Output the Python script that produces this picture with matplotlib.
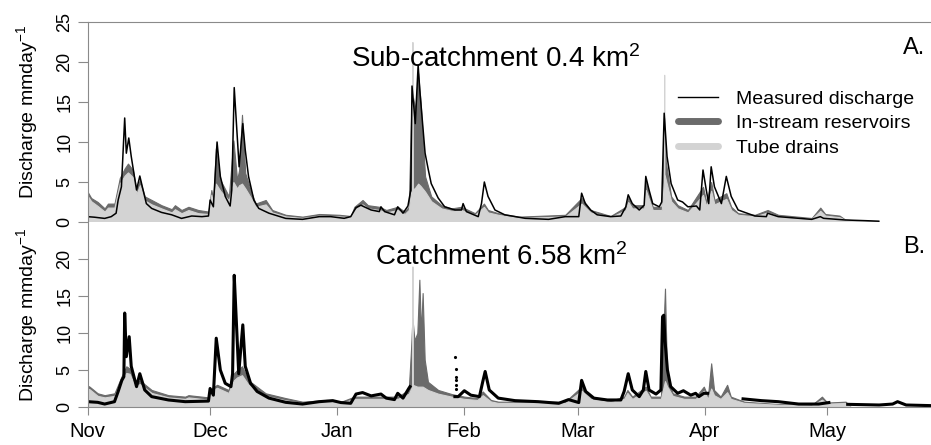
import matplotlib.pyplot as plt
import numpy as np
from matplotlib.lines import Line2D

plt.rcParams['font.family'] = ['Liberation Sans', 'DejaVu Sans']
plt.rcParams['mathtext.fontset'] = 'custom'
plt.rcParams['mathtext.rm'] = 'Liberation Sans'
plt.rcParams['mathtext.it'] = 'Liberation Sans:italic'

# month labels, day offset from 1 November
months = ['Nov', 'Dec', 'Jan', 'Feb', 'Mar', 'Apr', 'May']
month_start = [0, 30, 61, 92, 120, 151, 181]

# ---- A. sub-catchment 0.4 km2 (days since 1 Nov, discharge mm/day) ----
a_meas_day = [0, 1.7, 4.2, 5.8, 7.0, 7.5, 8.3, 9.1, 9.5, 10.1,
              10.7, 12.0, 12.8, 13.6, 14.4, 15.7, 18.1, 20.6, 23.0, 25.5,
              28.0, 29.6, 30.0, 30.8, 31.7, 32.5, 33.7, 34.9, 35.3, 35.9,
              36.6, 37.1, 38.0, 38.6, 39.4, 40.7, 41.9, 44.4, 48.5, 52.6,
              56.7, 59.5, 62.8, 64.4, 65.7, 66.9, 67.7, 69.4, 71.4, 71.8,
              72.7, 75.1, 75.9, 77.2, 78.4, 79.1, 79.4, 80.2, 80.9, 81.3,
              82.6, 83.4, 84.1, 85.8, 87.4, 89.9, 91.5, 91.9, 92.7, 95.6,
              96.4, 97.1, 98.0, 99.7, 102.1, 107.1, 112.8, 116.9, 120.2, 120.9,
              121.8, 123.1, 124.7, 128.0, 130.5, 131.7, 132.3, 133.3, 135.0, 136.2,
              136.6, 137.4, 138.3, 139.9, 140.5, 141.1, 141.8, 142.8, 144.4, 145.6,
              146.9, 149.0, 149.8, 150.6, 151.4, 152.0, 152.6, 153.4, 155.1, 156.3,
              157.5, 159.2, 163.3, 166.1, 166.4, 169.0, 177.2, 179.3, 180.1, 185.4,
              191.2, 193.6]
a_meas_q = [0.67, 0.6, 0.45, 0.67, 1.1, 2.75, 4.4, 13.0, 8.6, 10.5,
            8.2, 4.0, 5.75, 4.0, 2.3, 1.7, 1.2, 0.9, 0.45, 0.75,
            0.67, 0.75, 2.75, 1.9, 10.0, 5.7, 3.2, 2.0, 4.0, 16.8,
            11.0, 6.9, 12.3, 9.0, 5.7, 2.75, 1.7, 1.1, 0.45, 0.33,
            0.67, 0.67, 0.46, 0.67, 1.8, 2.1, 1.9, 1.5, 1.3, 1.9,
            1.3, 0.9, 1.9, 1.1, 2.0, 4.0, 17.0, 12.3, 19.6, 16.5,
            8.6, 6.5, 4.8, 3.0, 1.9, 1.5, 1.5, 2.3, 1.3, 0.67,
            2.3, 5.0, 3.2, 1.5, 0.9, 0.46, 0.33, 0.67, 0.67, 3.6,
            2.3, 1.5, 0.9, 0.67, 0.75, 1.9, 3.4, 2.3, 1.5, 2.1,
            5.7, 4.0, 2.3, 1.9, 2.5, 13.6, 8.2, 4.8, 2.75, 2.5,
            1.9, 2.0, 1.5, 6.5, 4.0, 2.3, 6.9, 4.4, 2.3, 5.7,
            3.2, 1.5, 0.75, 0.67, 1.1, 0.67, 0.33, 0.67, 0.46, 0.25,
            0.15, 0.1]

a_res_day = [0.0, 0.9, 2.5, 4.2, 5.0, 6.6, 7.9, 9.1, 9.9, 11.1,
             12.0, 12.8, 14.0, 15.7, 18.1, 20.6, 21.4, 23.0, 24.7, 27.1,
             29.6, 30.3, 30.8, 31.4, 32.5, 34.6, 35.7, 36.6, 37.1, 37.8,
             38.6, 39.9, 41.1, 43.6, 45.2, 48.5, 52.6, 56.7, 61.6, 64.4,
             65.3, 67.3, 68.6, 71.4, 73.1, 75.9, 77.6, 78.6, 79.2, 79.5,
             80.2, 80.9, 81.5, 82.6, 84.1, 86.6, 89.1, 91.5, 94.8, 97.0,
             98.0, 100.5, 105.5, 116.9, 120.9, 123.1, 128.0, 131.7, 132.3, 133.3,
             136.2, 136.6, 138.3, 140.5, 141.1, 141.5, 142.8, 144.4, 146.9, 150.6,
             151.4, 152.6, 153.4, 156.3, 157.5, 159.2, 163.3, 166.4, 169.0, 177.2,
             179.3, 180.5, 184.0, 185.4, 191.0, 193.6]
a_res_q = [3.8, 3.0, 2.5, 1.7, 2.3, 2.3, 5.5, 6.7, 7.3, 6.5,
           4.0, 5.25, 3.2, 2.75, 2.1, 1.6, 2.1, 1.5, 1.9, 1.5,
           1.3, 4.0, 2.75, 9.2, 5.25, 3.2, 10.2, 5.25, 6.5, 13.4,
           6.1, 4.0, 2.3, 2.75, 1.5, 0.9, 0.67, 1.0, 0.9, 0.75,
           1.9, 2.75, 2.1, 1.9, 1.5, 1.9, 1.3, 1.9, 13.6, 16.0,
           14.0, 18.6, 15.0, 5.7, 3.2, 2.1, 1.7, 1.9, 1.1, 2.3,
           1.5, 1.1, 0.67, 0.9, 3.0, 1.5, 0.75, 1.9, 3.0, 2.1,
           2.1, 5.0, 1.9, 1.9, 13.0, 7.5, 3.2, 2.1, 1.5, 4.4,
           2.5, 5.0, 2.75, 3.6, 1.9, 1.1, 0.9, 1.5, 0.9, 0.5,
           1.8, 1.0, 0.8, 0.3, 0.1, 0.05]

a_tube_day = [0.0, 0.9, 2.5, 4.2, 5.0, 6.6, 7.9, 9.1, 9.9, 11.1,
              12.0, 12.8, 14.0, 15.7, 18.1, 20.6, 21.4, 23.0, 24.7, 27.1,
              29.6, 30.3, 30.8, 31.4, 32.5, 34.6, 35.7, 36.6, 37.1, 37.8,
              38.6, 39.9, 41.1, 43.6, 45.2, 48.5, 52.6, 56.7, 61.6, 64.4,
              65.3, 67.3, 68.6, 71.4, 73.1, 75.9, 77.6, 78.6, 79.2, 79.45,
              79.5, 79.55, 80.2, 80.9, 81.5, 82.6, 84.1, 86.6, 89.1, 91.5,
              94.8, 97.0, 98.0, 100.5, 105.5, 116.9, 120.9, 123.1, 128.0, 131.7,
              132.3, 133.3, 136.2, 136.6, 138.3, 140.5, 141.05, 141.1, 141.15, 142.8,
              144.4, 146.9, 150.6, 151.4, 152.6, 153.4, 156.3, 157.5, 159.2, 163.3,
              166.4, 169.0, 177.2, 179.3, 180.5, 184.0, 185.4, 191.0, 193.6]
a_tube_q = [3.3, 2.6, 2.0, 1.3, 1.8, 1.8, 4.8, 5.8, 6.2, 5.6,
            3.5, 4.6, 2.7, 2.2, 1.7, 1.2, 1.6, 1.1, 1.5, 1.1,
            1.0, 3.4, 2.3, 4.8, 3.9, 2.7, 5.0, 4.2, 4.6, 4.8,
            4.2, 3.1, 1.9, 2.2, 1.2, 0.7, 0.5, 0.8, 0.7, 0.6,
            1.5, 2.2, 1.7, 1.5, 1.2, 1.5, 1.0, 1.5, 3.8, 3.9,
            22.5, 4.0, 4.3, 4.8, 4.5, 3.8, 2.6, 1.7, 1.4, 1.5,
            0.9, 1.9, 1.2, 0.9, 0.5, 0.7, 2.3, 1.2, 0.6, 1.5,
            2.5, 1.7, 1.7, 4.0, 1.5, 1.5, 5.0, 18.4, 6.0, 2.6,
            1.7, 1.2, 3.4, 2.0, 3.9, 2.2, 2.9, 1.5, 0.9, 0.7,
            1.2, 0.7, 0.4, 1.4, 0.8, 0.6, 0.25, 0.08, 0.04]

# ---- B. catchment 6.58 km2 ----
nan = np.nan
b_meas_day = [0.1, 2.5, 4.2, 6.6, 7.5, 8.4, 8.9, 9.1, 9.5, 10.2,
              10.7, 12.0, 12.8, 14.0, 15.7, 19.8, 23.9, 29.6, 30.0, 30.8,
              31.5, 32.5, 33.7, 35.1, 35.5, 35.9, 36.4, 37.0, 38.0, 38.6,
              39.9, 41.5, 44.4, 48.5, 52.6, 56.7, 60.0, 62.0, 64.4, 65.7,
              67.3, 69.4, 71.8, 73.1, 75.1, 75.9, 77.2, 78.6, 78.9, 84.0,
              89.9, 90.7, 92.2, 93.8, 95.9, 96.7, 97.3, 98.3, 100.5, 104.6,
              110.3, 115.3, 117.7, 120.2, 120.9, 121.9, 123.9, 127.2, 130.5, 131.3,
              132.3, 133.3, 135.0, 136.0, 136.6, 137.4, 139.1, 140.3, 140.7, 141.0,
              141.3, 141.9, 142.7, 144.4, 145.8, 147.6, 148.8, 149.6, 150.8, 151.7,
              156.0, 160.4, 164.9, 169.0, 174.0, 178.9, 181.4, 183.5, 186.0, 193.7,
              197.0, 198.2, 200.3, 206.8]
b_meas_q = [0.72, 0.63, 0.4, 0.72, 2.1, 3.6, 4.1, 12.7, 6.8, 9.5,
            5.5, 2.75, 4.5, 2.3, 1.4, 0.95, 0.72, 0.8, 2.5, 1.6,
            9.3, 5.0, 3.2, 2.75, 4.5, 17.8, 11.8, 4.5, 11.1, 5.5,
            3.2, 2.1, 1.2, 0.63, 0.4, 0.72, 0.86, 0.6, 0.5, 1.75,
            1.95, 1.5, 1.75, 1.2, 1.0, 1.85, 1.2, 2.5, 2.75, nan,
            1.4, 1.4, 2.2, 1.6, 1.4, 3.4, 4.8, 2.3, 1.2, 0.86,
            0.72, 0.5, 1.0, 0.6, 3.6, 2.1, 1.2, 0.95, 0.95, 2.1,
            4.5, 2.3, 1.4, 2.3, 4.8, 2.3, 1.75, 2.3, 12.2, 12.4,
            9.0, 5.0, 2.75, 1.85, 2.2, 1.6, 1.85, 1.4, 1.85, 1.85,
            nan, 1.1, 0.86, 0.72, 0.4, 0.4, 0.6, nan, 0.36, 0.27,
            0.4, 0.72, 0.27, 0.18]
# isolated readings at the end of the late-January gap
b_spot_day = [90.0, 90.05, 90.1, 90.15, 90.2, 90.25]
b_spot_q = [6.8, 5.2, 4.1, 3.6, 3.0, 2.4]

b_res_day = [0.0, 0.5, 2.5, 4.2, 6.6, 8.3, 9.5, 10.3, 11.6, 12.8,
             15.7, 19.8, 23.9, 24.7, 29.6, 30.3, 31.7, 34.5, 35.8, 36.6,
             37.8, 39.4, 43.6, 48.5, 52.6, 58.6, 62.0, 65.3, 67.3, 71.8,
             75.9, 78.6, 79.2, 79.5, 80.0, 80.7, 81.2, 81.6, 82.0, 82.5,
             83.3, 85.8, 89.1, 92.2, 95.4, 96.7, 98.7, 100.5, 116.9, 120.9,
             123.1, 128.0, 131.3, 132.1, 133.3, 136.6, 137.8, 140.3, 141.3, 141.8,
             143.2, 146.0, 148.8, 150.8, 151.8, 152.6, 153.3, 154.9, 156.5, 157.4,
             160.7, 169.0, 177.2, 179.7, 181.0, 185.5, 186.3, 186.7]
b_res_q = [2.9, 2.75, 1.85, 1.6, 1.85, 4.1, 5.5, 5.2, 3.2, 3.6,
           2.3, 1.6, 1.4, 1.6, 1.3, 2.5, 3.0, 2.3, 4.5, 5.0,
           5.5, 3.6, 1.85, 1.2, 0.72, 0.95, 0.7, 1.4, 1.4, 1.4,
           1.4, 2.3, 8.2, 12.0, 9.0, 10.0, 17.2, 10.0, 15.4, 6.4,
           3.4, 2.3, 1.75, 1.4, 1.2, 2.1, 0.95, 0.72, 0.72, 2.75,
           1.4, 0.86, 1.4, 2.3, 1.4, 2.75, 1.4, 1.4, 16.0, 4.1,
           1.85, 1.4, 1.4, 2.75, 1.4, 5.9, 2.3, 1.4, 3.0, 1.4,
           0.72, 0.4, 0.27, 1.4, 0.6, 0.72, 0.27, 0.0]

b_tube_day = [0.0, 0.5, 2.5, 4.2, 6.6, 8.3, 9.5, 10.3, 11.6, 12.8,
              15.7, 19.8, 23.9, 24.7, 29.6, 30.3, 31.7, 34.5, 35.8, 36.6,
              37.8, 39.4, 43.6, 48.5, 52.6, 58.6, 62.0, 65.3, 67.3, 71.8,
              75.9, 78.6, 79.45, 79.5, 79.55, 80.7, 82.0, 83.3, 85.8, 89.1,
              92.2, 95.4, 96.7, 98.7, 100.5, 116.9, 120.9, 123.1, 128.0, 131.3,
              132.1, 133.3, 136.6, 137.8, 140.3, 141.3, 141.8, 143.2, 146.0, 148.8,
              150.8, 151.8, 152.6, 153.3, 154.9, 156.5, 157.4, 160.7, 169.0, 177.2,
              179.7, 181.0, 185.5, 186.3, 186.7]
b_tube_q = [2.5, 2.4, 1.5, 1.3, 1.5, 3.6, 4.6, 4.5, 2.8, 3.1,
            1.9, 1.3, 1.1, 1.3, 1.0, 2.2, 2.6, 1.9, 3.6, 4.0,
            4.3, 3.0, 1.5, 0.9, 0.55, 0.75, 0.55, 1.1, 1.1, 1.1,
            1.1, 1.8, 2.8, 19.0, 3.0, 2.75, 2.75, 2.3, 1.8, 1.4,
            1.1, 0.95, 1.6, 0.75, 0.55, 0.55, 2.2, 1.1, 0.65, 1.1,
            1.9, 1.1, 2.2, 1.1, 1.1, 3.5, 2.8, 1.5, 1.1, 1.1,
            2.2, 1.1, 2.5, 1.6, 1.1, 2.0, 1.1, 0.55, 0.3, 0.2,
            1.0, 0.45, 0.55, 0.2, 0.0]

dark = '#6b6b6b'
light = '#d3d3d3'
axis_grey = '#8a8a8a'

W, H = 931, 445
fig = plt.figure(figsize=(W / 100, H / 100), dpi=100)
left = 87.5 / W
ax_a = fig.add_axes([left, 1 - 222 / H, 1 - left, 200 / H])
ax_b = fig.add_axes([left, 1 - 407 / H, 1 - left, 185 / H])

xmax = (W - 87.5) / 4.087

for ax, res_d, res_q, tube_d, tube_q in [
        (ax_a, a_res_day, a_res_q, a_tube_day, a_tube_q),
        (ax_b, b_res_day, b_res_q, b_tube_day, b_tube_q)]:
    ax.fill_between(res_d, res_q, color=dark, lw=0.8, ec=dark)
    ax.fill_between(tube_d, tube_q, color=light, lw=0.8, ec=light)
    ax.set_xlim(0, xmax)
    ax.set_ylim(0, 25)
    for s in ax.spines.values():
        s.set_visible(False)
    ax.spines['left'].set_visible(True)
    ax.spines['left'].set_color(axis_grey)
    ax.tick_params(axis='y', direction='out', length=7, color=axis_grey,
                   labelsize=13, pad=3, labelrotation=90)

ax_a.plot(a_meas_day, a_meas_q, color='black', lw=1.1)
ax_b.plot(b_meas_day, b_meas_q, color='black', lw=2.2)
ax_b.plot(b_spot_day, b_spot_q, 'k.', ms=2.5)

# panel A axes
ax_a.spines['top'].set_visible(True)
ax_a.spines['top'].set_color(axis_grey)
ax_a.set_yticks([0, 5, 10, 15, 20, 25])
ax_a.set_xticks([])
for lab in ax_a.get_yticklabels():
    lab.set_va('center')

# panel B axes
ax_b.spines['bottom'].set_visible(True)
ax_b.spines['bottom'].set_color(axis_grey)
ax_b.set_yticks([0, 5, 10, 15, 20])
for lab in ax_b.get_yticklabels():
    lab.set_va('center')
ax_b.set_xticks(month_start)
ax_b.set_xticklabels(months)
ax_b.tick_params(axis='x', direction='out', length=6, color=axis_grey,
                 labelsize=14.5, pad=5)

ylab = 'Discharge mmday$^{-1}$'
fig.text(27 / W, 1 - 112 / H, ylab, rotation=90, ha='center', va='center', fontsize=14)
fig.text(27 / W, 1 - 315 / H, ylab, rotation=90, ha='center', va='center', fontsize=14)

ax_a.text(99.9, 19.4, 'Sub-catchment 0.4 km$^2$', ha='center', va='baseline', fontsize=20)
ax_a.text(205.0, 21.0, 'A.', ha='right', va='baseline', fontsize=17)
ax_b.text(101.2, 19.2, 'Catchment 6.58 km$^2$', ha='center', va='baseline', fontsize=20)
ax_b.text(205.0, 20.8, 'B.', ha='right', va='baseline', fontsize=17)

handles = [Line2D([], [], color='black', lw=1),
           Line2D([], [], color=dark, lw=5, solid_capstyle='round'),
           Line2D([], [], color=light, lw=5, solid_capstyle='round')]
ax_a.legend(handles, ['Measured discharge', 'In-stream reservoirs', 'Tube drains'],
            loc='upper left', bbox_to_anchor=(678 / W, 1 - 90 / H),
            bbox_transform=fig.transFigure, frameon=False, fontsize=14,
            borderpad=0, borderaxespad=0, handlelength=2.05,
            handletextpad=0.95, labelspacing=0.36)

fig.savefig('out.png', dpi=100)
